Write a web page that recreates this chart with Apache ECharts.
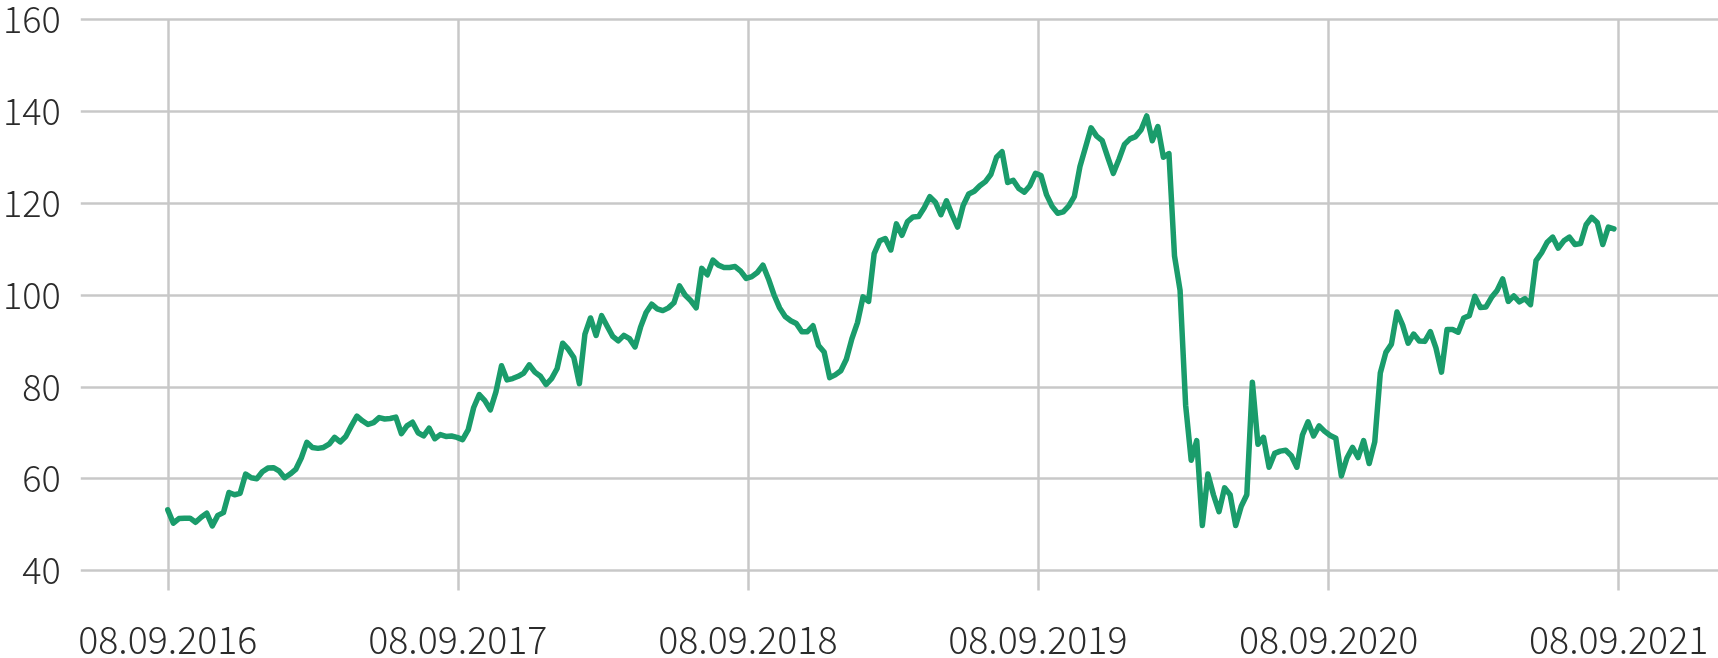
<!DOCTYPE html>
<html>
<head>
<meta charset="utf-8">
<script src="https://cdn.jsdelivr.net/npm/echarts@6/dist/echarts.min.js"></script>
<style>
  html, body { margin: 0; padding: 0; background: #ffffff; }
  #chart { width: 1718px; height: 658px; }
</style>
</head>
<body>
<div id="chart"></div>
<script>
// Weekly index values, first observation 08.09.2016
const startDate = '2016-09-08';
const weeklyValues = [
  53.2, 50.3, 51.3, 51.4, 51.4, 50.5, 51.6, 52.5, 49.7, 52.0,
  52.6, 57.0, 56.5, 56.8, 61.0, 60.2, 60.0, 61.5, 62.3, 62.4,
  61.7, 60.2, 61.0, 62.0, 64.5, 67.9, 66.8, 66.6, 66.8, 67.5,
  69.0, 68.0, 69.2, 71.5, 73.6, 72.6, 71.8, 72.2, 73.3, 73.0,
  73.1, 73.4, 69.8, 71.5, 72.3, 70.0, 69.3, 71.0, 68.7, 69.6,
  69.2, 69.3, 69.0, 68.5, 70.6, 75.5, 78.3, 77.0, 75.0, 78.9,
  84.6, 81.5, 81.8, 82.3, 83.0, 84.8, 83.2, 82.3, 80.5, 81.8,
  84.0, 89.5, 88.2, 86.4, 80.7, 91.5, 95.0, 91.2, 95.5, 93.2,
  91.0, 90.0, 91.2, 90.5, 88.7, 93.0, 96.2, 98.0, 97.0, 96.6,
  97.2, 98.3, 102.0, 100.0, 98.8, 97.2, 105.8, 104.4, 107.6, 106.5,
  106.0, 106.0, 106.2, 105.2, 103.6, 104.0, 104.9, 106.5, 103.5, 100.0,
  97.2, 95.3, 94.4, 93.8, 92.0, 92.0, 93.3, 89.0, 87.6, 82.0,
  82.6, 83.5, 86.0, 90.5, 94.0, 99.6, 98.6, 109.0, 111.8, 112.3,
  109.8, 115.5, 113.0, 116.0, 117.0, 117.1, 119.0, 121.4, 120.2, 117.5,
  120.5, 117.5, 114.8, 119.5, 122.0, 122.6, 123.8, 124.7, 126.3, 130.0,
  131.2, 124.5, 125.0, 123.2, 122.4, 123.8, 126.5, 126.0, 121.8, 119.3,
  117.8, 118.1, 119.4, 121.5, 128.0, 132.2, 136.4, 134.6, 133.6, 130.0,
  126.5, 129.5, 132.8, 134.0, 134.5, 136.0, 139.0, 133.6, 136.7, 130.0,
  130.8, 108.5, 101.0, 76.0, 64.0, 68.3, 49.8, 61.0, 56.5, 52.8,
  58.0, 56.5, 49.8, 54.0, 56.5, 81.0, 67.5, 69.0, 62.5, 65.5,
  66.0, 66.2, 65.0, 62.5, 69.5, 72.4, 69.3, 71.5, 70.3, 69.4,
  68.8, 60.6, 64.5, 66.8, 64.6, 68.3, 63.3, 68.0, 83.0, 87.5,
  89.3, 96.3, 93.5, 89.5, 91.5, 90.0, 89.9, 92.0, 88.5, 83.2,
  92.5, 92.5, 91.9, 95.0, 95.5, 99.7, 97.3, 97.4, 99.5, 101.0,
  103.5, 98.6, 99.8, 98.5, 99.2, 97.9, 107.5, 109.2, 111.5, 112.6,
  110.2, 111.8, 112.6, 111.0, 111.2, 115.3, 116.9, 115.8, 111.0, 114.8,
  114.4
];
const xTickLabels = ['08.09.2016', '08.09.2017', '08.09.2018', '08.09.2019', '08.09.2020', '08.09.2021'];
const yTicks = [40, 60, 80, 100, 120, 140, 160];

const DAY = 86400000;
const t0 = Date.parse(startDate + 'T00:00:00Z');
function labelToDays(s) {
  const p = s.split('.');
  return Math.round((Date.UTC(+p[2], +p[1] - 1, +p[0]) - t0) / DAY);
}
const tickDays = xTickLabels.map(labelToDays);
const labelByDay = {};
tickDays.forEach((d, k) => { labelByDay[d] = xTickLabels[k]; });
const seriesData = weeklyValues.map((v, i) => [i * 7, v]);

const FONT = "'Noto Sans CJK SC', 'Noto Sans', sans-serif";
const GRID_COLOR = '#c8c8c8';

const chart = echarts.init(document.getElementById('chart'), null, { renderer: 'canvas' });
chart.setOption({
  animation: false,
  backgroundColor: '#ffffff',
  grid: { left: 77, right: 0, top: 19.5, bottom: 82.5, containLabel: false },
  xAxis: {
    type: 'value',
    min: -109.5,
    max: 1951,
    axisLine: { show: false },
    axisTick: {
      show: true, customValues: tickDays, length: 20, inside: false,
      lineStyle: { color: GRID_COLOR, width: 2.5 }
    },
    axisLabel: {
      show: true, customValues: tickDays, margin: 50,
      fontFamily: FONT, fontSize: 37.5, fontWeight: 300, color: '#2b2b2b',
      formatter: v => labelByDay[Math.round(v)] || ''
    },
    splitLine: { show: true, lineStyle: { color: GRID_COLOR, width: 2.5 } }
  },
  yAxis: {
    type: 'value',
    min: yTicks[0],
    max: yTicks[yTicks.length - 1],
    interval: 20,
    axisLine: { show: false },
    axisTick: { show: false },
    axisLabel: {
      margin: 20, fontFamily: FONT, fontSize: 36, fontWeight: 300, color: '#2b2b2b'
    },
    splitLine: { show: true, lineStyle: { color: GRID_COLOR, width: 2.5 } }
  },
  series: [{
    type: 'line',
    data: seriesData,
    showSymbol: false,
    symbol: 'none',
    smooth: false,
    lineStyle: { color: '#1a9c6b', width: 5.5, join: 'round', cap: 'round' },
    z: 5
  }]
});
</script>
</body>
</html>
